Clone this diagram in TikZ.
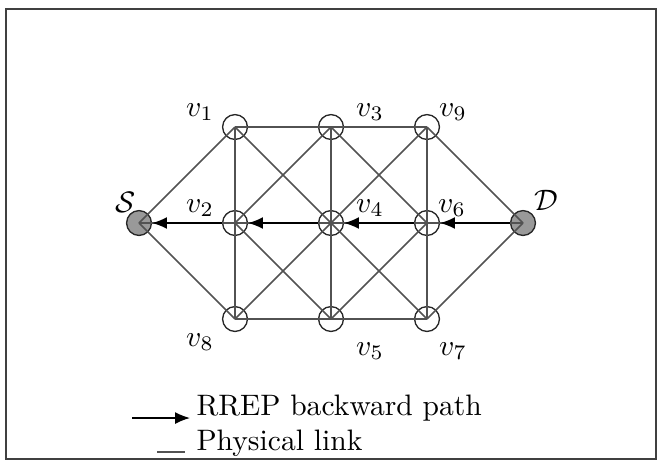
\documentclass[tikz,border=0pt]{standalone}
\usetikzlibrary{arrows.meta}
\begin{document}
\begin{tikzpicture}[x=0.338pt,y=-0.338pt,
  vnode/.style={circle,draw=black!85,line width=0.45pt,minimum size=8.4pt,inner sep=0pt},
  endnode/.style={vnode,fill=black!40},
  link/.style={draw=black!68,line width=0.55pt},
  rrep/.style={draw=black,line width=0.5pt,-{Latex[length=5pt,width=4pt]}},
  lbl/.style={inner sep=0pt,font=\normalsize}]
\useasboundingbox (0,0) rectangle (660,473);
\draw[black!75,line width=0.8pt] (6,9) rectangle (656,459);
% nodes
\node[endnode] (S) at (139,223) {};
\node[endnode] (D) at (523,223) {};
\node[vnode] (v1) at (235,127) {};
\node[vnode] (v3) at (331,127) {};
\node[vnode] (v9) at (427,127) {};
\node[vnode] (v2) at (235,223) {};
\node[vnode] (v4) at (331,223) {};
\node[vnode] (v6) at (427,223) {};
\node[vnode] (v8) at (235,319) {};
\node[vnode] (v5) at (331,319) {};
\node[vnode] (v7) at (427,319) {};
% physical links
\foreach \a/\b in {S/v1,S/v8,S/v2,v1/v3,v3/v9,v9/D,v8/v5,v5/v7,v7/D,D/v6,v6/v4,v4/v2,
  v1/v2,v2/v8,v3/v4,v4/v5,v9/v6,v6/v7,
  v1/v4,v4/v7,v9/v4,v4/v8,v2/v3,v2/v5,v3/v6,v5/v6}
  \draw[link] (\a.center) -- (\b.center);
% RREP backward path
\draw[rrep] (D) -- (v6);
\draw[rrep] (v6) -- (v4);
\draw[rrep] (v4) -- (v2);
\draw[rrep] (v2) -- (S);
% labels
\node[lbl] (lS) at (126,202) {$\mathcal{S}$};
\node[lbl] (lD) at (546,200) {$\mathcal{D}$};
\node[lbl] (l1) at (200,112) {$v_1$};
\node[lbl] (l3) at (370,112) {$v_3$};
\node[lbl] (l9) at (453,112) {$v_9$};
\node[lbl] (l2) at (200,208) {$v_2$};
\node[lbl] (l4) at (370,208) {$v_4$};
\node[lbl] (l6) at (452,208) {$v_6$};
\node[lbl] (l8) at (200,342) {$v_8$};
\node[lbl] (l5) at (370,351) {$v_5$};
\node[lbl] (l7) at (453,351) {$v_7$};
% legend
\coordinate (ra) at (132,418);
\coordinate (rb) at (190,418);
\draw[rrep] (ra) -- (rb);
\node[lbl,anchor=base west] (rt) at (196,415) {RREP backward path};
\coordinate (pa) at (157,452);
\coordinate (pb) at (185,452);
\draw[link,line width=0.6pt] (pa) -- (pb);
\node[lbl,anchor=base west] (pt) at (196,450) {Physical link};
\end{tikzpicture}
\end{document}
